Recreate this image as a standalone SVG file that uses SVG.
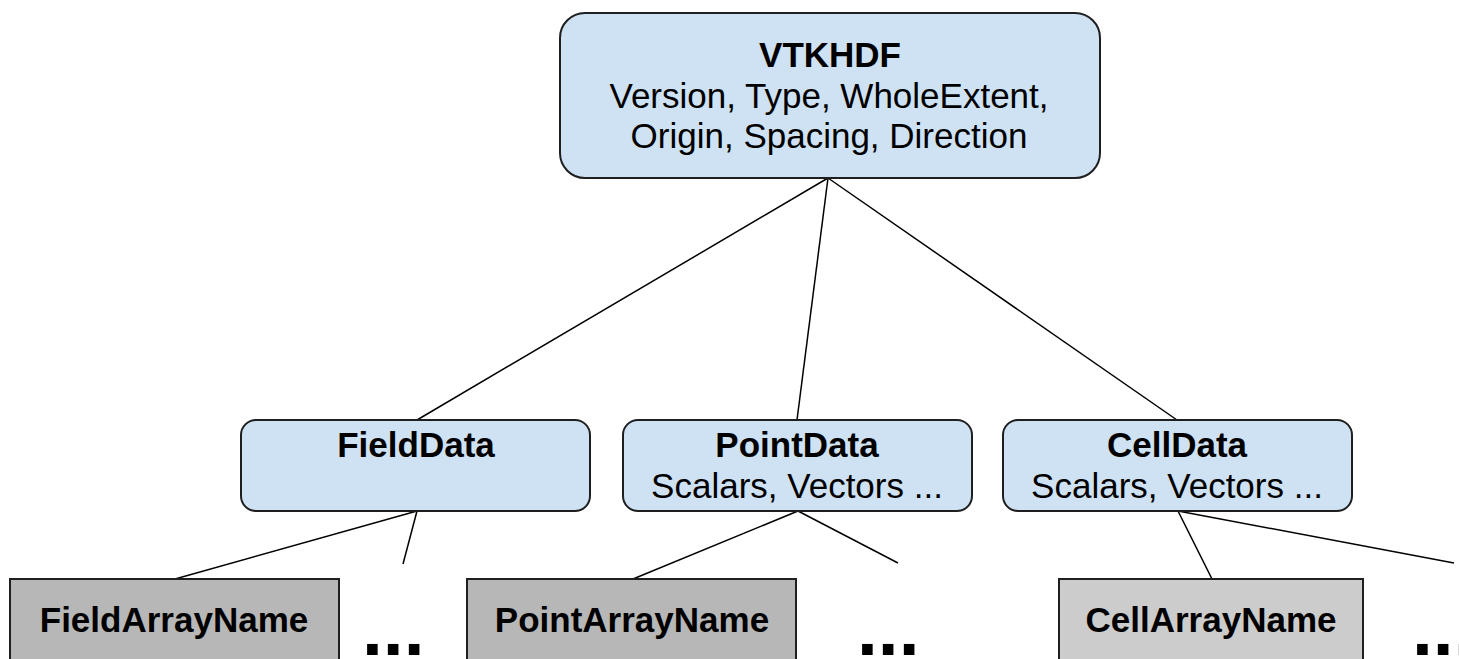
<svg xmlns="http://www.w3.org/2000/svg" width="1459" height="659" viewBox="0 0 1459 659">
<style>
.blue{fill:#cfe2f3;stroke:#1f1f1f;stroke-width:2}
.grey{fill:#b7b7b7;stroke:#1f1f1f;stroke-width:2}
.lgrey{fill:#cccccc;stroke:#1f1f1f;stroke-width:2}
.t{font-family:"Liberation Sans",Arial,sans-serif;font-size:35px;fill:#000;text-anchor:middle}
.b{font-weight:bold}
.dots{font-family:"Liberation Sans",Arial,sans-serif;font-size:75px;font-weight:bold;fill:#000}
.c{stroke:#000;stroke-width:1.5;fill:none}
</style>
<rect width="1459" height="659" fill="#fff"/>
<g id="connectors">
<line class="c" x1="828" y1="178" x2="417" y2="420"/>
<line class="c" x1="828" y1="178" x2="797" y2="420"/>
<line class="c" x1="828" y1="178" x2="1177" y2="420"/>
<line class="c" x1="417" y1="511" x2="175" y2="579"/>
<line class="c" x1="417" y1="511" x2="403" y2="564"/>
<line class="c" x1="798" y1="511" x2="633" y2="579"/>
<line class="c" x1="798" y1="511" x2="898" y2="563"/>
<line class="c" x1="1178" y1="511" x2="1212" y2="579"/>
<line class="c" x1="1178" y1="511" x2="1454" y2="563"/>
</g>
<g id="vtkhdf">
<rect class="blue" x="560" y="13" width="540" height="165" rx="25"/>
<text class="t b" x="830" y="67">VTKHDF</text>
<text class="t" x="829" y="108">Version, Type, WholeExtent,</text>
<text class="t" x="829" y="148">Origin, Spacing, Direction</text>
</g>
<g id="fielddata">
<rect class="blue" x="241" y="420" width="349" height="91" rx="15"/>
<text class="t b" x="416" y="457">FieldData</text>
</g>
<g id="pointdata">
<rect class="blue" x="623" y="420" width="349" height="91" rx="15"/>
<text class="t b" x="797" y="457">PointData</text>
<text class="t" x="797" y="498">Scalars, Vectors ...</text>
</g>
<g id="celldata">
<rect class="blue" x="1003" y="420" width="349" height="91" rx="15"/>
<text class="t b" x="1177" y="457">CellData</text>
<text class="t" x="1177" y="498">Scalars, Vectors ...</text>
</g>
<g id="fieldarrayname">
<rect class="grey" x="10" y="579" width="329" height="100"/>
<text class="t b" x="174" y="632">FieldArrayName</text>
</g>
<g id="pointarrayname">
<rect class="grey" x="467" y="579" width="329" height="100"/>
<text class="t b" x="632" y="632">PointArrayName</text>
</g>
<g id="cellarrayname">
<rect class="lgrey" x="1059" y="579" width="304" height="100"/>
<text class="t b" x="1211" y="632">CellArrayName</text>
</g>
<g id="ellipses">
<text class="dots" x="362" y="655">...</text>
<text class="dots" x="857" y="655">...</text>
<text class="dots" x="1412" y="655">...</text>
</g>
</svg>
